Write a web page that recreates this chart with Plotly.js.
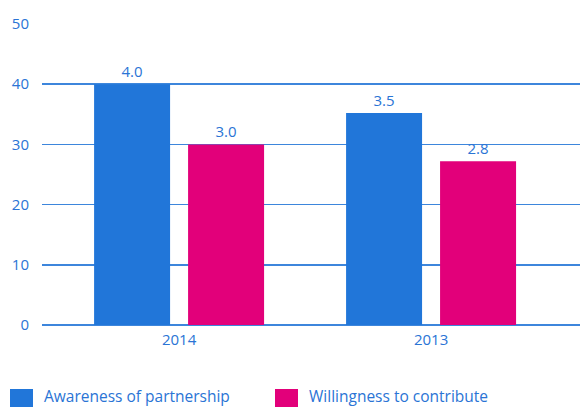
<!DOCTYPE html>
<html>
<head>
<meta charset="utf-8">
<script src="https://cdn.plot.ly/plotly-3.0.1.min.js"></script>
<style>
  html, body { margin: 0; padding: 0; background: #fff; }
  #graph { width: 580px; height: 407px; }
</style>
</head>
<body>
<div id="graph"></div>
<script>
'use strict';

var years = ['2014', '2013'];
var seriesNames = ['Awareness of partnership', 'Willingness to contribute'];
var awareness = [40, 35.2];
var willingness = [30, 27.2];
var awarenessLabels = ['4.0', '3.5'];
var willingnessLabels = ['3.0', '2.8'];
var yTicks = [0, 10, 20, 30, 40, 50];

var blue = '#2176d9';
var pink = '#e2007a';
var textBlue = '#2a74d5';
var font = 'Open Sans, DejaVu Sans, sans-serif';

var trace1 = {
    x: years,
    y: awareness,
    name: seriesNames[0],
    type: 'bar',
    marker: {color: blue},
    text: awarenessLabels,
    textposition: 'outside',
    textfont: {color: textBlue, size: 15, family: font},
    cliponaxis: false,
    hoverinfo: 'none'
};

var trace2 = {
    x: years,
    y: willingness,
    name: seriesNames[1],
    type: 'bar',
    marker: {color: pink},
    text: willingnessLabels,
    textposition: 'outside',
    textfont: {color: textBlue, size: 15, family: font},
    cliponaxis: false,
    hoverinfo: 'none'
};

// legend drawn by hand so the swatches can be big squares
var legendX = [10, 275];
var shapes = [];
var annotations = [];
[blue, pink].forEach(function (c, i) {
    shapes.push({
        type: 'rect', xref: 'paper', yref: 'paper',
        x0: (legendX[i] - 42) / 538, x1: (legendX[i] + 23 - 42) / 538,
        y0: -86 / 301, y1: -64 / 301,
        fillcolor: c, line: {width: 0}
    });
    annotations.push({
        xref: 'paper', yref: 'paper',
        x: (legendX[i] + 32 - 42) / 538, y: -71 / 301,
        xanchor: 'left', yanchor: 'middle',
        text: seriesNames[i], showarrow: false,
        font: {color: textBlue, size: 15.5, family: font}
    });
});

var layout = {
    width: 580,
    height: 407,
    margin: {l: 42, r: 0, t: 24, b: 82},
    paper_bgcolor: '#fff',
    plot_bgcolor: '#fff',
    showlegend: false,
    barmode: 'group',
    bargap: 0.254,
    bargroupgap: 0.1915,
    font: {family: font, color: textBlue, size: 15},
    xaxis: {
        type: 'category',
        range: [-0.544, 1.591],
        showgrid: false,
        showline: false,
        ticks: '',
        tickfont: {color: textBlue, size: 15},
        ticklabelstandoff: 4,
        fixedrange: true
    },
    yaxis: {
        range: [0, 50],
        tickvals: yTicks,
        showgrid: true,
        gridcolor: '#3d86dc',
        gridwidth: 1.5,
        zeroline: true,
        zerolinecolor: '#3d86dc',
        zerolinewidth: 1.5,
        showline: false,
        ticks: '',
        tickfont: {color: textBlue, size: 15},
        ticklabelstandoff: 12,
        fixedrange: true
    },
    shapes: shapes,
    annotations: annotations
};

Plotly.newPlot('graph', [trace1, trace2], layout, {displayModeBar: false, staticPlot: true});
</script>
</body>
</html>
